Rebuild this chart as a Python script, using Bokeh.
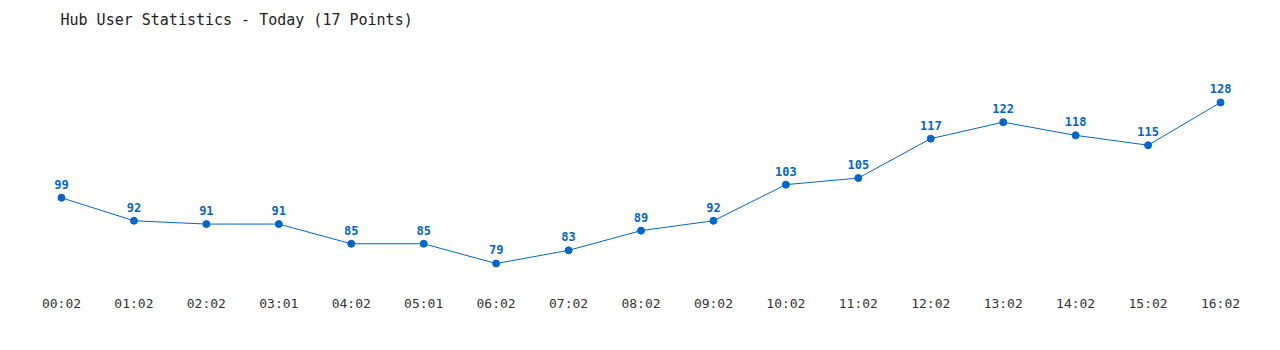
from bokeh.plotting import figure
from bokeh.models import Range1d, ColumnDataSource
from bokeh.core.properties import value
from bokeh.embed import file_html
from bokeh.resources import INLINE

times = ["00:02", "01:02", "02:02", "03:01", "04:02", "05:01", "06:02", "07:02", "08:02",
         "09:02", "10:02", "11:02", "12:02", "13:02", "14:02", "15:02", "16:02"]
users = [99, 92, 91, 91, 85, 85, 79, 83, 89, 92, 103, 105, 117, 122, 118, 115, 128]

idx = list(range(len(times)))
src = ColumnDataSource(dict(x=idx, y=users, lbl=[str(v) for v in users]))

BLUE = "#0066cc"
MONO = "DejaVu Sans Mono"

p = figure(width=1280, height=350, output_backend="svg", toolbar_location=None,
           x_range=Range1d(-0.842, 16.828), y_range=Range1d(70.78, 148.39),
           min_border_left=0, min_border_right=0, min_border_top=35, min_border_bottom=60)
p.title.text = "Hub User Statistics - Today (17 Points)"
p.title.text_font = MONO
p.title.text_font_size = "15px"
p.title.text_font_style = "normal"
p.title.text_color = "#222222"
p.title.offset = 60
p.title.standoff = 13

p.outline_line_color = None
p.xgrid.visible = False
p.ygrid.visible = False
p.yaxis.visible = False

ax = p.xaxis[0]
ax.ticker = idx
ax.major_label_overrides = {i: t for i, t in zip(idx, times)}
ax.axis_line_color = None
ax.major_tick_line_color = None
ax.minor_tick_line_color = None
ax.major_tick_out = 0
ax.major_tick_in = 0
ax.major_label_standoff = 5
ax.major_label_text_font = MONO
ax.major_label_text_font_size = "13px"
ax.major_label_text_color = "#333333"

p.line("x", "y", source=src, line_color=BLUE, line_width=1)
p.scatter("x", "y", source=src, size=7, fill_color=BLUE, line_color=BLUE)
p.text("x", "y", text="lbl", source=src, text_font=value(MONO), text_font_style="bold",
       text_font_size="12px", text_color=BLUE, text_align="center",
       text_baseline="bottom", y_offset=-9)

open("out.html", "w").write(file_html(p, INLINE))
